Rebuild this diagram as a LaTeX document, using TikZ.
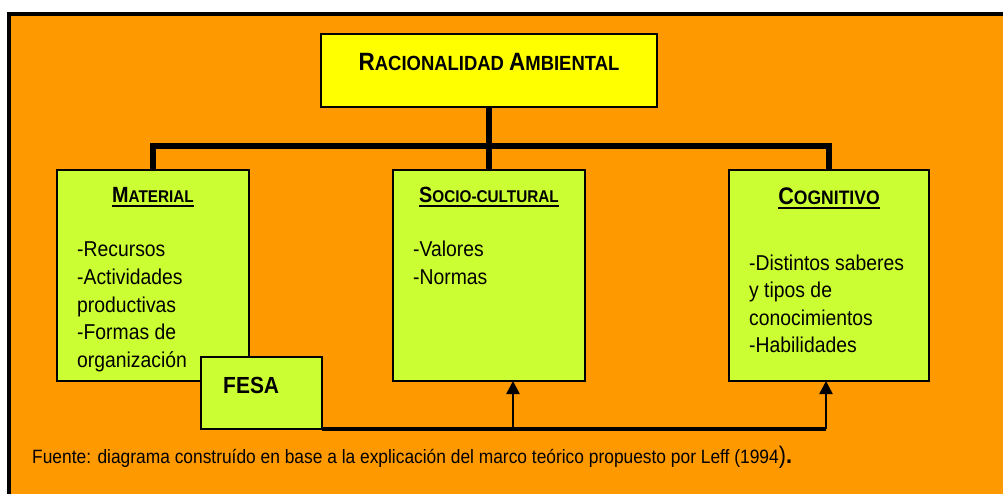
\documentclass[tikz,border=0pt]{standalone}
\usepackage{fontspec}
\setmainfont{Liberation Sans}[FakeStretch=0.9]
\usetikzlibrary{arrows.meta}
\definecolor{fondoNaranja}{HTML}{FF9900}
\definecolor{fondoAmarillo}{HTML}{FFFF00}
\definecolor{fondoVerde}{HTML}{CCFF33}
\newcommand\versalita[4]{{\fontsize{#1}{#1}\selectfont #3}{\fontsize{#2}{#2}\selectfont #4}}
\newcommand\subrayado[1]{\setbox0\hbox{#1}\rlap{\rule[-4.5pt]{\wd0}{2pt}}\box0}

\begin{document}
\begin{tikzpicture}
[x=1pt,y=-1pt,%
  boxDecorate/.style={draw,line width=2pt,fill=fondoVerde,anchor=north west,inner sep=0pt,outer sep=0pt},%
  titleDecorate/.style={anchor=base,inner sep=0pt,font=\bfseries},%
  textDecorate/.style={anchor=base west,inner sep=0pt,font=\fontsize{21.5}{27.5}\selectfont},%
  busLine/.style={line width=6pt},%
  flowLine/.style={line width=3.2pt},%
  arrowLine/.style={line width=2.5pt,-{Triangle[width=13pt,length=13pt]}}]
\useasboundingbox (0,0) rectangle (1003,494);
\draw[line width=4pt,fill=fondoNaranja] (9,14) rectangle (1013,504);
%% boxes
\node (top) at (321,34) [boxDecorate,fill=fondoAmarillo,minimum width=336pt,minimum height=73pt] {};
\foreach \boxname/\x/\y/\w/\h in {
  mat/57/170/192/211, soc/393/170/192/211, cog/729/170/200/211,
  fesa/201/357/121/72}
{
  \node (\boxname) at (\x,\y) [boxDecorate,minimum width=\w pt,minimum height=\h pt] {};
}
%% texts
\node (titulo) at (489,71) [titleDecorate] {\versalita{25}{20.5}{R}{ACIONALIDAD }\versalita{25}{20.5}{A}{MBIENTAL}};
\node (tmat) at (153,203) [titleDecorate] {\subrayado{\versalita{22}{17}{M}{ATERIAL}}};
\node (tsoc) at (489,203) [titleDecorate] {\subrayado{\versalita{22}{17}{S}{OCIO-CULTURAL}}};
\node (tcog) at (829,205) [titleDecorate] {\subrayado{\versalita{24}{19.5}{C}{OGNITIVO}}};
\node (lmat) at (77,257) [textDecorate] {\parbox[t]{170pt}{\raggedright
  -Recursos\\-Actividades\\productivas\\-Formas de\\organización}};
\node (lsoc) at (413,257) [textDecorate] {\parbox[t]{170pt}{\raggedright
  -Valores\\-Normas}};
\node (lcog) at (749,270) [textDecorate] {\parbox[t]{175pt}{\raggedright
  -Distintos saberes\\y tipos de\\conocimientos\\-Habilidades}};
\node (tfesa) at (223,393) [textDecorate,font=\bfseries\fontsize{23.3}{28}\selectfont] {FESA};
\node (fuente) at (32,463) [textDecorate,font=\fontsize{19.3}{22}\selectfont]
  {Fuente: diagrama construído en base a la explicación del marco teórico propuesto por Leff (1994{\fontsize{24}{24}\selectfont)\bfseries.}};
%% lines
\coordinate (bus) at (489,146);
\coordinate (pieSoc) at (513,429);
\coordinate (pieCog) at (826,429);
\draw[busLine] (top.south) -- (bus);
\draw[busLine] (mat.north) |- (bus) -| (cog.north);
\draw[busLine] (soc.north) -- (bus);
\draw[flowLine] (fesa.south east) -- (pieCog);
\draw[arrowLine] (pieSoc) -- (pieSoc |- soc.south);
\draw[arrowLine] (pieCog) -- (pieCog |- cog.south);
\end{tikzpicture}
\end{document}
